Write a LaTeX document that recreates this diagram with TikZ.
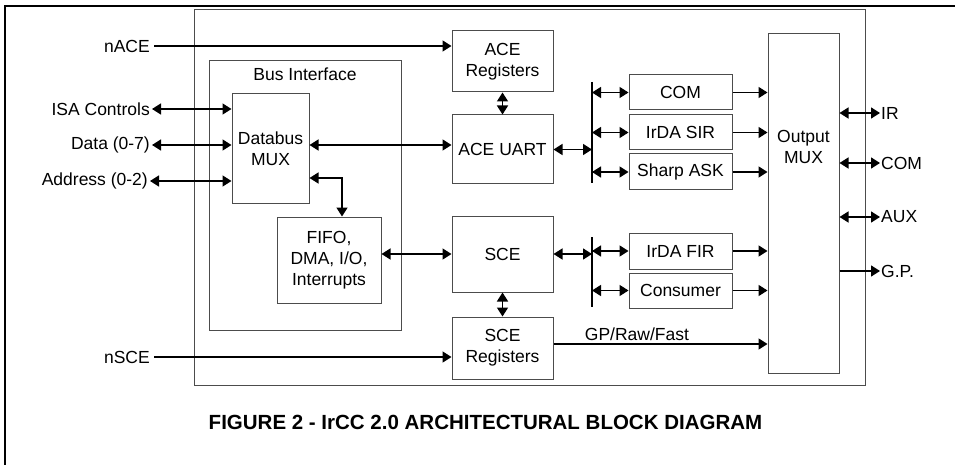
\documentclass[tikz,border=0pt]{standalone}
\usepackage{fontspec}
\setmainfont{Liberation Sans}
\usetikzlibrary{arrows.meta, positioning, calc}
\tikzset{
    block/.style={draw=black!70, line width=1pt, inner sep=0pt, align=center,
                  font=\fontsize{17.5}{21}\selectfont},
    frame/.style={draw=black!70, line width=1pt, inner sep=0pt},
    lbl/.style={inner sep=0pt, align=center, font=\fontsize{17.5}{21}\selectfont},
    unidir/.style={-{Triangle[length=9pt,width=11pt]}, line width=1.5pt},
    bidir/.style={{Triangle[length=9pt,width=11pt]}-{Triangle[length=9pt,width=11pt]},
                  line width=1.5pt},
    busbar/.style={-, line width=2.5pt},
}

\begin{document}
\begin{tikzpicture}[x=1pt, y=-1pt]
    \useasboundingbox (0,0) rectangle (955,465);
    % page rule and chip outline
    \draw[line width=2.5pt] (5,465) -- (5,6) -- (955,6);
    \draw[frame] (194,10) rectangle (865,385);
    % bus interface
    \node[frame, minimum width=192pt, minimum height=269pt] (busif) at (305,195.5) {};
    \node[lbl, below=7pt of busif.north] (busiflbl) {Bus Interface};
    \node[block, minimum width=77pt, minimum height=109pt] (dbmux) at (270.5,148.5) {Databus\\MUX};
    \node[block, minimum width=104pt, minimum height=86pt] (fifo) at (329,260) {FIFO,\\DMA, I/O,\\Interrupts};
    % ACE and SCE column
    \node[block, minimum width=101pt, minimum height=61pt] (acereg) at (502.5,61.5) {ACE\\Registers};
    \node[block, minimum width=101pt, minimum height=69pt, below=22pt of acereg] (aceuart) {ACE UART};
    \node[block, minimum width=101pt, minimum height=76pt, below=31pt of aceuart] (sce) {SCE};
    \node[block, minimum width=101pt, minimum height=62pt, below=24pt of sce] (scereg) {SCE\\Registers};
    % modulators
    \node[block, minimum width=103pt, minimum height=35pt] (com) at (680.5,92.5) {COM};
    \node[block, minimum width=103pt, minimum height=35pt, below=4pt of com] (irsir) {IrDA SIR};
    \node[block, minimum width=103pt, minimum height=36pt, below=3pt of irsir] (sharp) {Sharp ASK};
    \node[block, minimum width=103pt, minimum height=36pt] (irfir) at (680.5,251) {IrDA FIR};
    \node[block, minimum width=103pt, minimum height=35pt, below=3pt of irfir] (cons) {Consumer};
    % output mux
    \node[frame, minimum width=71pt, minimum height=339pt] (outmux) at (803.5,203.5) {};
    \node[lbl] (outmuxlbl) at (803.5,147) {Output\\MUX};
    % bus bars
    \coordinate (ubtop) at (592,82);
    \coordinate (ubbot) at (592,183);
    \coordinate (lbtop) at (592,237);
    \coordinate (lbbot) at (592,307);
    \draw[busbar] (ubtop) -- (ubbot);
    \draw[busbar] (lbtop) -- (lbbot);
    % pins
    \node[lbl, anchor=east] (nace) at (150,46) {nACE};
    \node[lbl, anchor=east] (isa) at (150,109) {ISA Controls};
    \node[lbl, anchor=east] (data) at (150,145) {Data (0-7)};
    \node[lbl, anchor=east] (addr) at (148,181) {Address (0-2)};
    \node[lbl, anchor=east] (nsce) at (150,357) {nSCE};
    \node[lbl, anchor=west] (ir) at (881,113) {IR};
    \node[lbl, anchor=west] (comout) at (881,163) {COM};
    \node[lbl, anchor=west] (aux) at (881,217) {AUX};
    \node[lbl, anchor=west] (gp) at (881,271) {G.P.};
    \node[inner sep=0pt, font=\bfseries\fontsize{20.5}{24}\selectfont] (caption) at (485.5,422)
        {FIGURE 2 - IrCC 2.0 ARCHITECTURAL BLOCK DIAGRAM};
    % host side
    \draw[unidir] ([xshift=4pt]nace.east) -- (nace.east -| acereg.west);
    \draw[unidir] ([xshift=4pt]nsce.east) -- (nsce.east -| scereg.west);
    \foreach \p in {isa, data, addr}
        \draw[bidir] ([xshift=2pt]\p.east) -- (\p.east -| dbmux.west);
    \draw[bidir] (data.east -| dbmux.east) -- (data.east -| aceuart.west);
    \draw[bidir] ([yshift=-29.5pt]dbmux.east) -| ([xshift=13pt]fifo.north);
    \draw[bidir] (sce.west -| fifo.east) -- (sce.west);
    \draw[bidir] (acereg.south) -- (aceuart.north);
    \draw[bidir] (sce.south) -- (scereg.north);
    % to the bus bars and modulators
    \draw[bidir] (aceuart.east) -- (aceuart.east -| ubtop);
    \draw[bidir] (sce.east) -- (sce.east -| lbtop);
    \foreach \b in {com, irsir, sharp}
        \draw[bidir] (\b.west -| ubtop) -- (\b.west);
    \foreach \b in {irfir, cons}
        \draw[bidir] (\b.west -| lbtop) -- (\b.west);
    \foreach \b in {com, irsir, sharp, irfir, cons}
        \draw[unidir] (\b.east) -- (\b.east -| outmux.west);
    \coordinate (gpout) at ([yshift=4pt]scereg.east);
    \draw[unidir] (gpout) -- (gpout -| outmux.west)
        node[lbl, pos=0.39, above=3pt] (gprawlbl) {GP/Raw/Fast};
    % outputs
    \foreach \s in {ir, comout, aux}
        \draw[bidir] (\s.west -| outmux.east) -- ([xshift=-1pt]\s.west);
    \draw[unidir] (gp.west -| outmux.east) -- ([xshift=-1pt]gp.west);
\end{tikzpicture}
\end{document}
